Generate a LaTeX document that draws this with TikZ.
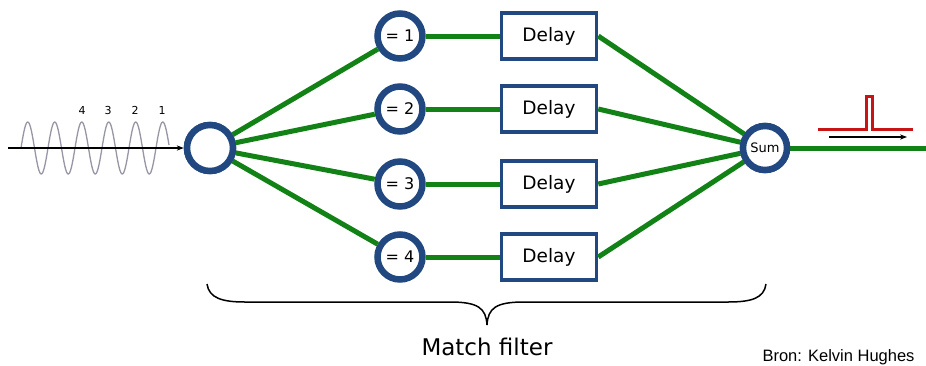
\documentclass[tikz,border=0pt]{standalone}
\usepackage{fontspec}
\setmainfont{DejaVu Sans}
\newfontfamily\bronfont{Liberation Sans}
\usetikzlibrary{arrows.meta}
\definecolor{ringblue}{RGB}{33,72,128}
\definecolor{wiregreen}{RGB}{18,130,22}
\definecolor{pulsered}{RGB}{200,20,20}
\definecolor{wavegray}{RGB}{150,150,165}
\tikzset{
  ring/.style={circle, draw=ringblue, line width=6.5pt, fill=white, inner sep=0pt},
  delaybox/.style={draw=ringblue, line width=3.5pt, fill=white, minimum width=95pt, minimum height=46pt, font=\fontsize{18.5}{20}\selectfont},
  wire/.style={wiregreen, line width=5pt}
}
\begin{document}
\begin{tikzpicture}[x=1pt,y=-1pt]
\useasboundingbox (0,0) rectangle (926,365);

% input wave
\draw [wavegray, line width=1.3pt, domain=0:148, samples=200, smooth] plot ({21+\x},{148-26*sin(13.3333*\x)});
\draw (82,110) node (n4) {\fontsize{11}{12}\selectfont 4};
\draw (108,110) node (n3) {\fontsize{11}{12}\selectfont 3};
\draw (135,110) node (n2) {\fontsize{11}{12}\selectfont 2};
\draw (162,110) node (n1) {\fontsize{11}{12}\selectfont 1};

\node [ring, minimum size=46pt] (split) at (210,148) {};
\coordinate (src) at (8,148);
\draw [-{Stealth[length=7pt]}, line width=1.3pt] (src) -- (split.west);

\node [ring, minimum size=44pt, font=\fontsize{13}{15}\selectfont] (sum) at (765,148) {Sum};
\coordinate (out) at (926,148);
\draw [wire] (sum) -- (out);

% the four branches
\foreach \k/\yy in {1/36, 2/109, 3/184, 4/257}{
  \node [ring, minimum size=45pt, font=\fontsize{16}{18}\selectfont] (eq\k) at (400,\yy) {= \k};
  \node [delaybox] (delay\k) at (549,\yy) {Delay};
  \draw [wire] (split) -- (eq\k);
  \draw [wire] (eq\k) -- (delay\k);
  \draw [wire] (delay\k.east) -- (sum);
}
\node [ring, minimum size=46pt] at (210,148) {};
\node [ring, minimum size=44pt, font=\fontsize{13}{15}\selectfont] at (765,148) {Sum};

% output pulse
\draw [pulsered, line width=3pt] (818,129) -- (866,129) -- (866,96) -- (872,96) -- (872,129) -- (913,129);
\coordinate (pa) at (829,137);
\coordinate (pb) at (907,137);
\draw [-{Stealth[length=7pt]}, line width=1.3pt] (pa) -- (pb);

% brace
\draw [line width=1.5pt] (207,284) .. controls (209,298) and (222,302) .. (245,302) -- (450,302)
  .. controls (478,302) and (486,308) .. (487,325)
  .. controls (488,308) and (496,302) .. (524,302) -- (728,302)
  .. controls (752,302) and (764,298) .. (766,284);
\node (mf) at (487,347) {\fontsize{23}{26}\selectfont Match filter};
\node [anchor=base east] (bron) at (918,361) {\bronfont\fontsize{16.5}{18}\selectfont Bron: Kelvin Hughes};
\end{tikzpicture}
\end{document}
